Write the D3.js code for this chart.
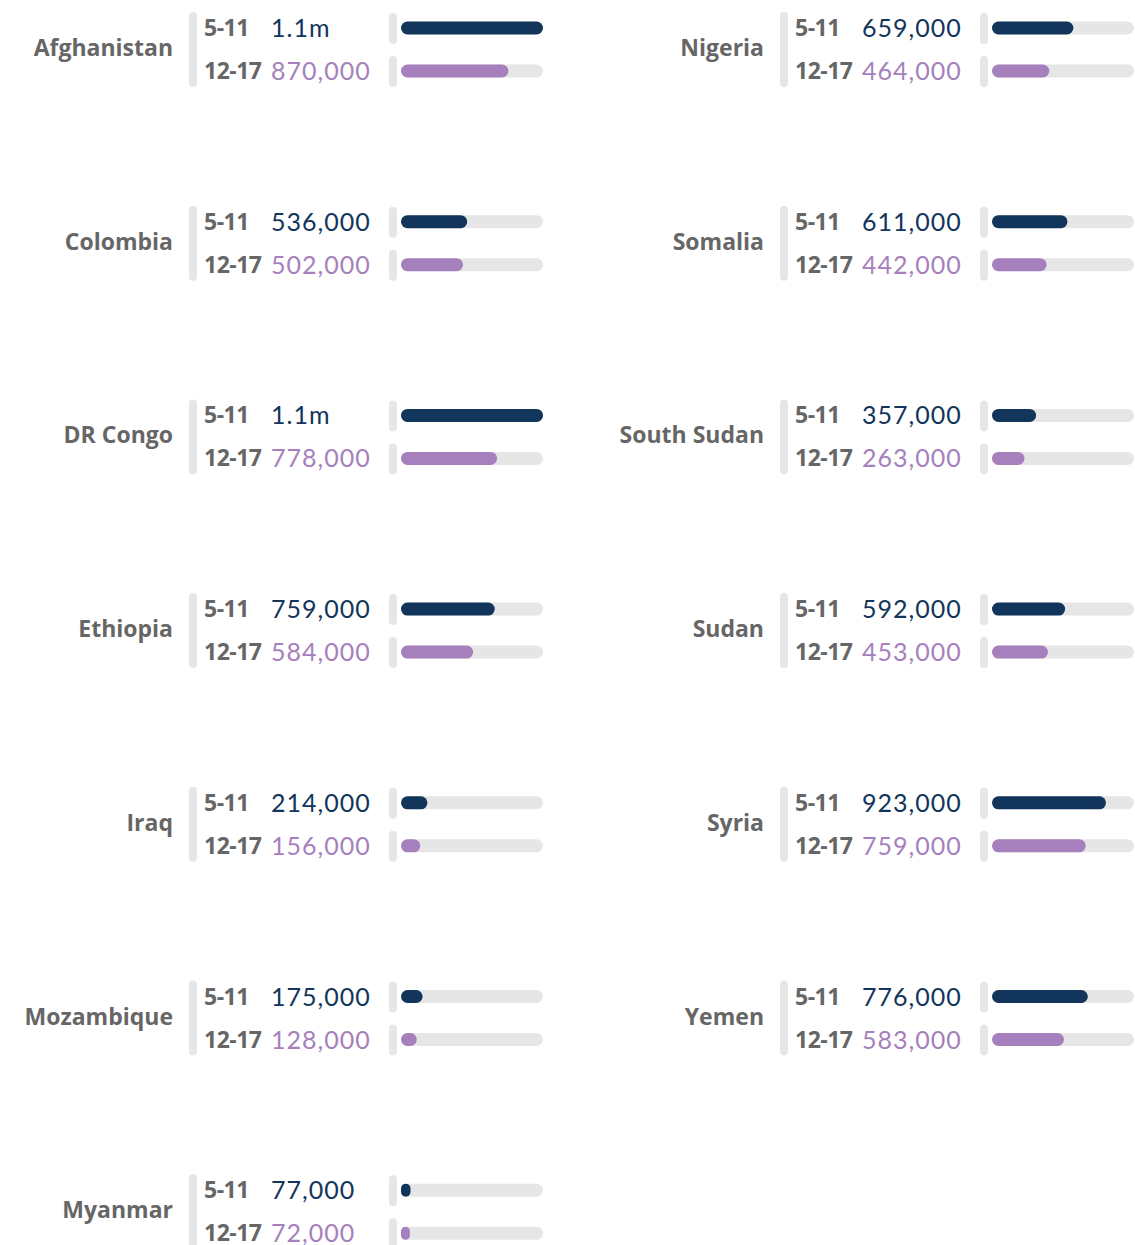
<!DOCTYPE html>
<html>
<head>
<meta charset="utf-8">
<script src="https://cdn.jsdelivr.net/npm/d3@7"></script>
<style>
  body { margin: 0; background: #fff; }
  svg text { font-family: Lato, "Open Sans", sans-serif; }
  svg text.bold { font-family: "Open Sans", Lato, sans-serif; font-weight: 700; }
</style>
</head>
<body>
<svg id="chart" width="1135" height="1245"></svg>
<script>
// children out of school, by age group
const countries = ["Afghanistan", "Colombia", "DR Congo", "Ethiopia", "Iraq", "Mozambique", "Myanmar",
  "Nigeria", "Somalia", "South Sudan", "Sudan", "Syria", "Yemen"];
const ages5to11 = [1150000, 536000, 1150000, 759000, 214000, 175000, 77000,
  659000, 611000, 357000, 592000, 923000, 776000];
const ages12to17 = [870000, 502000, 778000, 584000, 156000, 128000, 72000,
  464000, 442000, 263000, 453000, 759000, 583000];
const ageLabels = ["5-11", "12-17"];

const navy = "#12355b";
const purple = "#a680bd";
const grey = "#e6e6e6";
const labelGrey = "#666";

const svg = d3.select("#chart");
const perCol = 7;
const colOffset = 591;
const rowStep = 193.7;

const maxVal = d3.max(ages5to11.concat(ages12to17));
const x = d3.scaleLinear().domain([0, maxVal]).range([0, 142]);

const fmt = v => v >= 1e6 ? (Math.floor(v / 1e5) / 10) + "m" : d3.format(",")(v);

const data = countries.map((c, i) => ({
  country: c,
  values: [ages5to11[i], ages12to17[i]],
  col: Math.floor(i / perCol),
  row: i % perCol
}));

const blocks = svg.selectAll("g.block")
  .data(data)
  .enter()
  .append("g")
  .attr("class", "block")
  .attr("transform", d => `translate(${d.col * colOffset}, ${d.row * rowStep})`);

blocks.append("text")
  .attr("class", "bold")
  .attr("x", 173)
  .attr("y", 56)
  .attr("text-anchor", "end")
  .attr("fill", labelGrey)
  .style("font-size", "23px")
  .text(d => d.country);

blocks.append("rect")
  .attr("x", 189).attr("y", 12)
  .attr("width", 8).attr("height", 75)
  .attr("rx", 4)
  .attr("fill", grey);

const rowY = [28, 71];
const colors = [navy, purple];

ageLabels.forEach((lab, k) => {
  const cy = rowY[k];
  blocks.append("text")
    .attr("class", "bold")
    .attr("x", 204)
    .attr("y", cy + 8)
    .attr("fill", labelGrey)
    .style("font-size", "23px")
    .style("letter-spacing", "-0.5px")
    .text(lab);

  blocks.append("text")
    .attr("x", 271)
    .attr("y", cy + 9)
    .attr("fill", colors[k])
    .style("font-size", "25px")
    .style("letter-spacing", "1px")
    .text(d => fmt(d.values[k]));

  blocks.append("rect")
    .attr("x", 389).attr("y", cy - 15)
    .attr("width", 8).attr("height", 31)
    .attr("rx", 4)
    .attr("fill", grey);

  blocks.append("rect")
    .attr("x", 401).attr("y", cy - 6.5)
    .attr("width", x(maxVal)).attr("height", 13)
    .attr("rx", 6.5)
    .attr("fill", grey);

  blocks.append("rect")
    .attr("x", 401).attr("y", cy - 6.5)
    .attr("width", d => x(d.values[k]))
    .attr("height", 13)
    .attr("rx", d => Math.min(6.5, x(d.values[k]) / 2))
    .attr("fill", colors[k]);
});
</script>
</body>
</html>
